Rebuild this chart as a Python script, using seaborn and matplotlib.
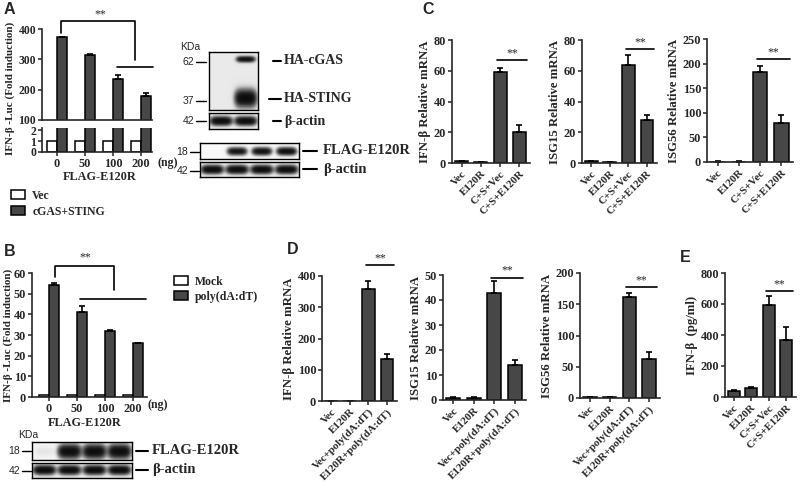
import numpy as np
import pandas as pd
import matplotlib
matplotlib.use("Agg")
import matplotlib.pyplot as plt
from matplotlib.lines import Line2D
import seaborn as sns

# ---------------- data ----------------
A_doses = ["0", "50", "100", "200"]
A_vec = [1, 1, 1, 1]
A_cs = [372, 313, 235, 180]
A_cs_err = [3, 6, 12, 8]

B_doses = ["0", "50", "100", "200"]
B_mock = [1, 1, 1, 1]
B_poly = [54, 41, 32, 26]
B_poly_err = [1, 3, 0.5, 0.3]

C_groups = ["Vec", "E120R", "C+S+Vec", "C+S+E120R"]
C_ifnb = [1, 0.5, 59, 20]
C_ifnb_err = [0.3, 0.1, 3, 5]
C_isg15 = [1, 0.5, 64, 28]
C_isg15_err = [0.3, 0.1, 6, 3]
C_isg56 = [1, 1, 182, 80]
C_isg56_err = [0.3, 0.3, 13, 16]

D_groups = ["Vec", "E120R", "Vec+poly(dA:dT)", "E120R+poly(dA:dT)"]
D_ifnb = [1, 1, 358, 135]
D_ifnb_err = [0.3, 0.3, 25, 15]
D_isg15 = [1, 1, 43, 14]
D_isg15_err = [0.2, 0.2, 4.5, 2]
D_isg56 = [1, 1, 162, 63]
D_isg56_err = [0.3, 0.3, 6, 11]

E_groups = ["Vec", "E120R", "C+S+Vec", "C+S+E120R"]
E_ifnb = [40, 58, 595, 365]
E_ifnb_err = [3, 4, 55, 85]

# western blot lane intensities
A_blot_cgas = [0.0, 0.9]
A_blot_sting = [0.0, 1.0]
A_blot_actin = [1.0, 1.0]
A_blot_flag = [0.0, 0.85, 0.9, 0.95]
A_blot_actin2 = [1.0, 1.0, 1.0, 1.0]
B_blot_flag = [0.05, 1.0, 1.0, 1.0]
B_blot_actin = [1.0, 1.0, 1.0, 1.0]

# ---------------- style ----------------
sns.set_theme(style="ticks")
plt.rcParams["font.family"] = ["Liberation Serif", "DejaVu Serif"]
plt.rcParams["font.weight"] = "bold"
plt.rcParams["axes.labelweight"] = "bold"
plt.rcParams["axes.linewidth"] = 1.2
plt.rcParams["xtick.major.width"] = 1.1
plt.rcParams["ytick.major.width"] = 1.1
plt.rcParams["xtick.major.size"] = 3
plt.rcParams["ytick.major.size"] = 3
plt.rcParams["xtick.major.pad"] = 1.5
plt.rcParams["ytick.major.pad"] = 1.2

DARK = "#474747"
W, H = 800, 483
fig = plt.figure(figsize=(8, 4.83), dpi=100)


def rect(x0, y0, x1, y1):
    return [x0 / W, 1 - y1 / H, (x1 - x0) / W, (y1 - y0) / H]


def ftext(x, y, s, **kw):
    kw.setdefault("va", "center")
    fig.text(x / W, 1 - y / H, s, **kw)


def fline(x0, y0, x1, y1, lw=1.2):
    fig.add_artist(Line2D([x0 / W, x1 / W], [1 - y0 / H, 1 - y1 / H],
                          color="black", lw=lw))


def style_ax(ax, size=8.8):
    sns.despine(ax=ax)
    ax.tick_params(labelsize=size)
    for lab in ax.get_xticklabels() + ax.get_yticklabels():
        lab.set_fontweight("bold")


def add_err(ax, container, errs):
    xs = [p.get_x() + p.get_width() / 2 for p in container]
    hs = [p.get_height() for p in container]
    ax.errorbar(xs, hs, yerr=[np.zeros(len(errs)), errs], fmt="none",
                ecolor="black", elinewidth=1.2, capsize=2.5, capthick=1.2,
                zorder=1)


def sig(ax, x0, x1, y, text=True):
    ax.plot([x0, x1], [y, y], color="black", lw=1.2, clip_on=False)
    if text:
        ax.annotate("**", ((x0 + x1) / 2, y), xytext=(0, 0.5),
                    textcoords="offset points", ha="center", va="bottom",
                    fontsize=8.5, fontweight="normal", annotation_clip=False)


# ---------------- Panel A (broken axis) ----------------
dfA = pd.DataFrame({
    "dose": A_doses * 2,
    "val": A_vec + A_cs,
    "grp": ["Vec"] * 4 + ["cGAS+STING"] * 4,
})
axAu = fig.add_axes(rect(42, 29, 152, 120))
axAl = fig.add_axes(rect(42, 128, 152, 152))
for ax in (axAu, axAl):
    sns.barplot(data=dfA, x="dose", y="val", hue="grp", order=A_doses,
                hue_order=["Vec", "cGAS+STING"], palette=["white", DARK],
                edgecolor="black", linewidth=1.1, errorbar=None, width=0.72,
                legend=False, ax=ax)
    ax.set_xlim(-0.54, 3.39)
    ax.set_xlabel("")
    ax.set_ylabel("")
add_err(axAu, axAu.containers[1], A_cs_err)
axAu.set_ylim(100, 400)
axAu.set_yticks([100, 200, 300, 400])
axAu.spines["bottom"].set_visible(False)
axAu.tick_params(axis="x", bottom=False, labelbottom=False)
axAl.set_ylim(0, 2.2)
axAl.set_yticks([0, 1, 2])
style_ax(axAu, size=8.4)
style_ax(axAl, size=8.4)
axAl.tick_params(axis="x", labelsize=8.8)
# bracket
axAu.plot([0.14, 0.14, 2.79, 2.79], [387, 426, 426, 298], color="black",
          lw=1.2, clip_on=False)
axAu.text(1.55, 430, "**", ha="center", va="bottom", fontsize=8.5,
          fontweight="normal", clip_on=False)
axAu.plot([2.14, 3.43], [275, 275], color="black", lw=1.2, clip_on=False)
ftext(10, 88, "IFN-β -Luc (Fold induction)", rotation=90, ha="center",
      fontsize=8)
ftext(157, 163, "(ng)", ha="left", fontsize=8.5)
ftext(100, 177, "FLAG-E120R", ha="center", fontsize=8.8)
fig.legend(handles=[axAl.containers[0][0], axAl.containers[1][0]],
           labels=["Vec", "cGAS+STING"], loc="upper left",
           bbox_to_anchor=(11 / W, 1 - 190 / H), frameon=False,
           handlelength=1.2, handleheight=0.8, handletextpad=0.6,
           labelspacing=0.3, borderpad=0, borderaxespad=0,
           prop={"family": "Liberation Serif", "weight": "bold", "size": 8.5})


# ---------------- Western blots ----------------
def blot(box, rows, n_lanes, bg=0.1):
    ax = fig.add_axes(rect(*box))
    nx, ny = n_lanes * 40, 60
    xx = (np.arange(nx) + 0.5) / nx * n_lanes
    yy = (np.arange(ny) + 0.5) / ny
    X, Y = np.meshgrid(xx, yy)
    img = np.zeros_like(X)
    for inten, yc, sy, sx in rows:
        for i, v in enumerate(inten):
            prof = np.exp(-((X - (i + 0.5)) / sx) ** 4) * \
                np.exp(-((Y - yc) / sy) ** 2)
            img += v * prof
    img = bg + (1 - bg) * (1 - np.exp(-3.0 * img))
    ax.imshow(img, cmap="Greys", vmin=0, vmax=1, aspect="auto",
              extent=(0, n_lanes, 1, 0), interpolation="bilinear")
    ax.set_xticks([])
    ax.set_yticks([])
    for s in ax.spines.values():
        s.set_visible(True)
        s.set_linewidth(1.0)
        s.set_color("black")
    return ax


blot((209, 52, 258, 110), [(A_blot_cgas, 0.14, 0.045, 0.36),
                           (A_blot_sting, 0.80, 0.13, 0.42)], 2, bg=0.16)
blot((209, 113, 258, 129), [(A_blot_actin, 0.5, 0.25, 0.42)], 2)
blot((200, 143, 299, 159), [(A_blot_flag, 0.52, 0.22, 0.38)], 4, bg=0.05)
blot((200, 162, 299, 177), [(A_blot_actin2, 0.5, 0.26, 0.42)], 4)
blot((32, 442, 132, 460), [(B_blot_flag, 0.55, 0.34, 0.44)], 4, bg=0.05)
blot((32, 463, 132, 478), [(B_blot_actin, 0.5, 0.26, 0.42)], 4)

sans = {"family": ["Liberation Sans", "DejaVu Sans"], "weight": "normal",
        "fontsize": 7.5}
ftext(180, 47, "KDa", ha="left", **sans)
for lab, y in [("62", 62), ("37", 101), ("42", 121)]:
    ftext(194, y, lab, ha="right", **sans)
    fline(196, y, 206, y, lw=1.0)
for lab, y in [("18", 152), ("42", 171)]:
    ftext(188, y, lab, ha="right", **sans)
    fline(190, y, 199, y, lw=1.0)
ftext(18, 435, "KDa", ha="left", **sans)
for lab, y in [("18", 451), ("42", 471)]:
    ftext(20, y, lab, ha="right", **sans)
    fline(22, y, 31, y, lw=1.0)

for lab, y, x0 in [("HA-cGAS", 61, 273), ("HA-STING", 99, 269),
                   ("β-actin", 121, 273)]:
    fline(x0, y, 281, y, lw=1.5)
    ftext(284, y, lab, ha="left", fontsize=10)
for lab, y in [("FLAG-E120R", 151), ("β-actin", 169)]:
    fline(303, y, 317, y, lw=1.5)
    ftext(323, y, lab, ha="left", fontsize=10.5)
for lab, y in [("FLAG-E120R", 451), ("β-actin", 470)]:
    fline(136, y, 148, y, lw=1.5)
    ftext(152, y, lab, ha="left", fontsize=10.5)

# ---------------- Panel B ----------------
dfB = pd.DataFrame({
    "dose": B_doses * 2,
    "val": B_mock + B_poly,
    "grp": ["Mock"] * 4 + ["poly(dA:dT)"] * 4,
})
axB = fig.add_axes(rect(32, 273, 147, 397))
sns.barplot(data=dfB, x="dose", y="val", hue="grp", order=B_doses,
            hue_order=["Mock", "poly(dA:dT)"], palette=["white", DARK],
            edgecolor="black", linewidth=1.1, errorbar=None, width=0.7,
            legend=False, ax=axB)
add_err(axB, axB.containers[1], B_poly_err)
axB.set_xlim(-0.61, 3.5)
axB.set_ylim(0, 60)
axB.set_yticks(range(0, 61, 10))
axB.set_xlabel("")
axB.set_ylabel("")
style_ax(axB)
axB.plot([0.21, 0.21, 2.32, 2.32], [58, 63.4, 63.4, 51.8], color="black",
         lw=1.2, clip_on=False)
axB.text(1.29, 64.5, "**", ha="center", va="bottom", fontsize=8.5,
         fontweight="normal", clip_on=False)
axB.plot([1.1, 3.46], [47.4, 47.4], color="black", lw=1.2, clip_on=False)
ftext(8, 335, "IFN-β -Luc (Fold induction)", rotation=90, ha="center",
      fontsize=8)
ftext(148, 405, "(ng)", ha="left", fontsize=8.5)
ftext(85, 423, "FLAG-E120R", ha="center", fontsize=8.8)
fig.legend(handles=[axB.containers[0][0], axB.containers[1][0]],
           labels=["Mock", "poly(dA:dT)"], loc="upper left",
           bbox_to_anchor=(174 / W, 1 - 276 / H), frameon=False,
           handlelength=1.2, handleheight=0.8, handletextpad=0.6,
           labelspacing=0.25, borderpad=0, borderaxespad=0,
           prop={"family": "Liberation Serif", "weight": "bold", "size": 8.5})


# ---------------- Panels C, D, E ----------------
def simple_bar(box, groups, vals, errs, ylim, yticks, ylabel, sigy):
    ax = fig.add_axes(rect(*box))
    df = pd.DataFrame({"g": groups, "v": vals})
    sns.barplot(data=df, x="g", y="v", order=groups, color=DARK,
                saturation=1, edgecolor="black", linewidth=1.1,
                errorbar=None, width=0.68, ax=ax)
    add_err(ax, ax.containers[0], errs)
    ax.set_xlim(-0.5, 3.55)
    ax.set_ylim(*ylim)
    ax.set_yticks(yticks)
    ax.set_xlabel("")
    ax.set_ylabel(ylabel, fontsize=9.2, labelpad=2)
    style_ax(ax)
    ax.tick_params(axis="x", labelsize=7.8)
    for lab in ax.get_xticklabels():
        lab.set_rotation(45)
        lab.set_ha("right")
        lab.set_rotation_mode("anchor")
    sig(ax, 1.85, 3.4, sigy)
    return ax


simple_bar((452, 40, 530, 163), C_groups, C_ifnb, C_ifnb_err, (0, 80),
           range(0, 81, 20), "IFN-β Relative mRNA", 67)
simple_bar((582, 40, 657, 163), C_groups, C_isg15, C_isg15_err, (0, 80),
           range(0, 81, 20), "ISG15 Relative mRNA", 74)
simple_bar((707, 39, 793, 162), C_groups, C_isg56, C_isg56_err, (0, 250),
           range(0, 251, 50), "ISG56 Relative mRNA", 209)
simple_bar((322, 276, 397, 401), D_groups, D_ifnb, D_ifnb_err, (0, 400),
           range(0, 401, 100), "IFN-β Relative mRNA", 435)
simple_bar((443, 275, 526, 400), D_groups, D_isg15, D_isg15_err, (0, 50),
           range(0, 51, 10), "ISG15 Relative mRNA", 49)
simple_bar((580, 273, 660, 398), D_groups, D_isg56, D_isg56_err, (0, 200),
           range(0, 201, 50), "ISG56 Relative mRNA", 178)
simple_bar((725, 273, 796, 397), E_groups, E_ifnb, E_ifnb_err, (0, 800),
           range(0, 801, 200), "IFN-β  (pg/ml)", 684)

# panel letters
letter = {"family": ["Liberation Sans", "DejaVu Sans"], "weight": "bold",
          "fontsize": 11.5}
ftext(4, 10, "A", ha="left", **letter)
ftext(4, 252, "B", ha="left", **letter)
ftext(422, 10, "C", ha="left", **letter)
ftext(287, 250, "D", ha="left", **letter)
ftext(680, 258, "E", ha="left", **letter)

fig.savefig("out.png", dpi=100)
